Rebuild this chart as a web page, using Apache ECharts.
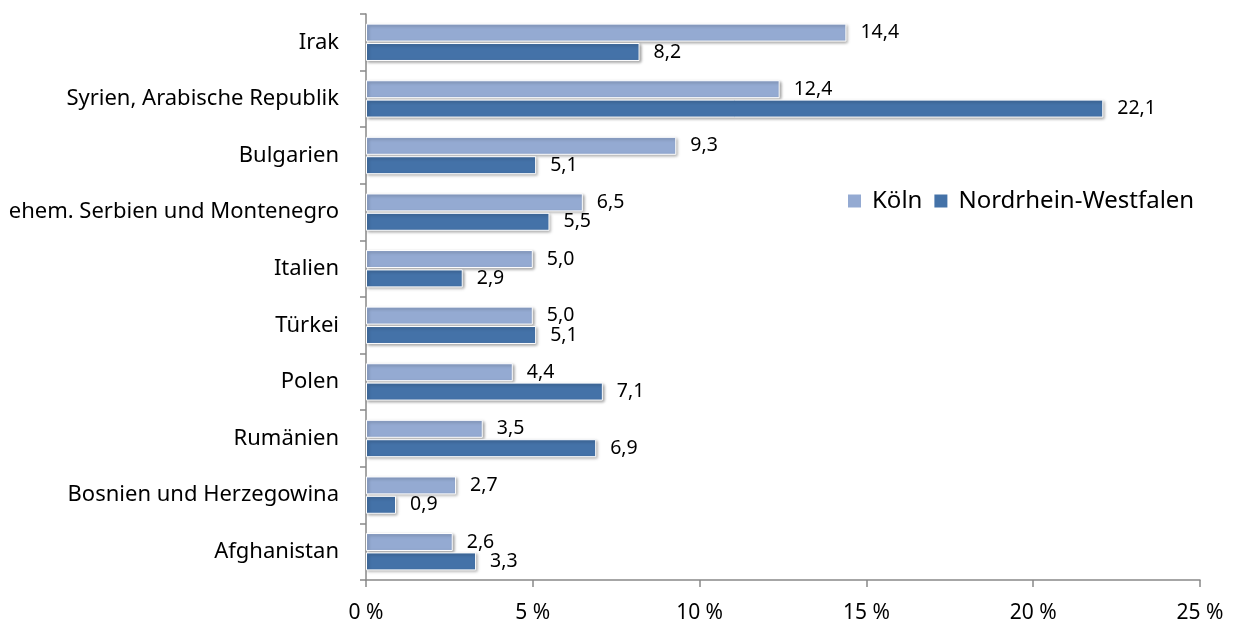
<!DOCTYPE html>
<html><head><meta charset="utf-8">
<script src="https://cdn.jsdelivr.net/npm/echarts@6/dist/echarts.min.js"></script>
<style>html,body{margin:0;padding:0;background:#fff}#c{width:1236px;height:625px}</style>
</head><body><div id="c"></div>
<script>
const categories = ["Irak","Syrien, Arabische Republik","Bulgarien","ehem. Serbien und Montenegro","Italien","Türkei","Polen","Rumänien","Bosnien und Herzegowina","Afghanistan"];
const koeln = [14.4,12.4,9.3,6.5,5.0,5.0,4.4,3.5,2.7,2.6];
const nrw = [8.2,22.1,5.1,5.5,2.9,5.1,7.1,6.9,0.9,3.3];
const seriesNames = ["Köln","Nordrhein-Westfalen"];
const FONT = "Noto Sans";
const chart = echarts.init(document.getElementById('c'));
const fmt = p => p.value.toFixed(1).replace('.', ',');
const common = {
  type: 'bar', barGap: '8%', barCategoryGap: '34%',
  label: {show: true, position: 'right', distance: 14, formatter: fmt, fontFamily: FONT, fontSize: 19.5, color: '#000'},
  itemStyle: {borderColor: '#fff', borderWidth: 1, shadowColor: 'rgba(0,0,0,0.35)', shadowBlur: 3, shadowOffsetX: 1.5, shadowOffsetY: 1.5}
};
chart.setOption({
  animation: false,
  grid: {left: 366, right: 36, top: 14, bottom: 45, containLabel: false},
  legend: {data: seriesNames, left: 848, top: 189, padding: 0, icon: 'rect', itemWidth: 13, itemHeight: 13, itemGap: 12,
    itemStyle: {borderWidth: 0, shadowBlur: 0, shadowOffsetX: 0, shadowOffsetY: 0},
    textStyle: {fontFamily: FONT, fontSize: 24, color: '#000', padding: [0, 0, 0, 6]}},
  xAxis: {type: 'value', min: 0, max: 25, interval: 5,
    axisLine: {show: true, lineStyle: {color: '#898989', width: 1.5}},
    axisTick: {show: true, length: 7, lineStyle: {color: '#898989', width: 1.5}},
    splitLine: {show: false},
    axisLabel: {formatter: v => v + ' %', margin: 23, fontFamily: FONT, fontSize: 21, color: '#000'}},
  yAxis: {type: 'category', data: categories, inverse: true,
    axisLine: {lineStyle: {color: '#898989', width: 1.5}},
    axisTick: {show: true, length: 6, lineStyle: {color: '#898989', width: 1.5}},
    axisLabel: {margin: 27, fontFamily: FONT, fontSize: 22, color: '#000'}},
  series: [
    Object.assign({}, common, {name: seriesNames[0], data: koeln, itemStyle: Object.assign({}, common.itemStyle, {color: '#94aad2'})}),
    Object.assign({}, common, {name: seriesNames[1], data: nrw, itemStyle: Object.assign({}, common.itemStyle, {color: '#4472a8'})})
  ]
});
</script></body></html>
